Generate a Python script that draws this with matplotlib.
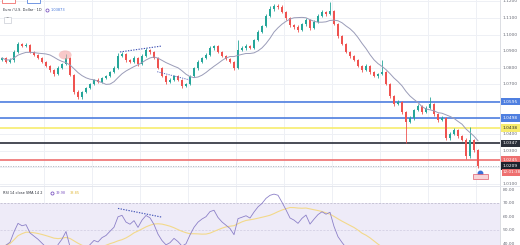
import matplotlib
matplotlib.use('Agg')
import matplotlib.pyplot as plt
import numpy as np
from matplotlib.patches import Ellipse, Rectangle
import matplotlib.transforms as mtrans

# ---------------- data ----------------
first_open = 1.0850
closes = [
    1.0860, 1.0836, 1.0848, 1.0896, 1.0944, 1.0932, 1.0938, 1.0896, 1.0878, 1.0860,
    1.0836, 1.0811, 1.0787, 1.0763, 1.0799, 1.0823, 1.0860, 1.0757, 1.0655, 1.0625,
    1.0655, 1.0679, 1.0703, 1.0727, 1.0715, 1.0739, 1.0751, 1.0775, 1.0799, 1.0872,
    1.0884, 1.0848, 1.0836, 1.0860, 1.0823, 1.0872, 1.0908, 1.0896, 1.0860, 1.0799,
    1.0751, 1.0715, 1.0727, 1.0751, 1.0727, 1.0691, 1.0703, 1.0751, 1.0799, 1.0836,
    1.0860, 1.0878, 1.0920, 1.0932, 1.0896, 1.0872, 1.0854, 1.0836, 1.0799, 1.0908,
    1.0920, 1.0932, 1.0920, 1.0968, 1.1016, 1.1052, 1.1113, 1.1155, 1.1173, 1.1168,
    1.1137, 1.1101, 1.1058, 1.1046, 1.1028, 1.1064, 1.1089, 1.1040, 1.1076, 1.1113,
    1.1137, 1.1125, 1.1140, 1.1064, 1.0992, 1.0944, 1.0896, 1.0872, 1.0848, 1.0811,
    1.0787, 1.0811, 1.0775, 1.0751, 1.0763, 1.0775, 1.0703, 1.0631, 1.0583, 1.0595,
    1.0534, 1.0474, 1.0498, 1.0546, 1.0570, 1.0534, 1.0558, 1.0583, 1.0522, 1.0486,
    1.0498, 1.0378, 1.0402, 1.0426, 1.0390, 1.0366, 1.0269, 1.0366, 1.0305, 1.0209,
]
wick_up_pips = [
    8, 6, 10, 12, 15, 6, 10, 5, 8, 6,
    5, 7, 6, 4, 10, 8, 25, 6, 8, 10,
    6, 8, 5, 7, 10, 6, 8, 5, 12, 15,
    10, 6, 8, 12, 5, 10, 14, 8, 6, 5,
    7, 5, 10, 6, 8, 5, 9, 6, 8, 10,
    7, 12, 9, 8, 5, 6, 7, 5, 8, 60,
    12, 10, 8, 9, 10, 8, 12, 15, 14, 10,
    8, 6, 7, 5, 10, 8, 12, 6, 14, 10,
    12, 8, 55, 10, 6, 8, 5, 7, 6, 8,
    5, 10, 6, 8, 9, 73, 6, 5, 8, 10,
    6, 8, 10, 9, 12, 8, 10, 42, 7, 6,
    10, 8, 12, 9, 7, 6, 10, 78, 8, 5,
]
wick_dn_pips = [
    6, 8, 5, 10, 6, 8, 7, 9, 5, 6,
    8, 6, 10, 12, 5, 7, 6, 8, 12, 15,
    10, 6, 8, 7, 5, 9, 6, 8, 5, 7,
    6, 10, 8, 5, 9, 7, 6, 10, 8, 7,
    6, 12, 9, 8, 7, 10, 6, 8, 5, 9,
    7, 6, 8, 10, 6, 9, 8, 7, 12, 6,
    8, 10, 7, 9, 6, 8, 5, 7, 10, 12,
    8, 10, 12, 14, 9, 7, 10, 12, 6, 8,
    7, 10, 6, 8, 12, 9, 7, 10, 8, 6,
    9, 7, 10, 8, 12, 6, 9, 10, 14, 8,
    10, 126, 8, 9, 7, 10, 8, 6, 9, 12,
    8, 14, 10, 9, 12, 8, 15, 9, 10, 12,
]
level_values = [1.0595, 1.0498, 1.0438, 1.0347, 1.0245]
level_colors = ['#4f7fe0', '#4f7fe0', '#f7ec6e', '#2a2e39', '#ee6f6f']
level_text_colors = ['white', 'white', '#2a2e39', 'white', 'white']
current_price = 1.0209
countdown_text = '12:01:38'
price_tick_values = [1.12, 1.11, 1.10, 1.09, 1.08, 1.07, 1.06, 1.05, 1.04, 1.03, 1.02, 1.01]
price_tick_shown = [1.12, 1.11, 1.10, 1.09, 1.08, 1.07, 1.04, 1.03, 1.01]
rsi_tick_values = [80, 70, 60, 50, 40]
header_title = 'Euro / U.S. Dollar · 1D'
header_value = '1.03873'
rsi_title = 'RSI 14 close SMA 14 2'
rsi_value = '39.98'
rsi_ma_value = '38.85'
trend_price_1 = ([29.5, 40.0], [1.0896, 1.0932])
trend_price_2 = ([38.8, 47.0], [1.0777, 1.0727])
trend_rsi = ([29.0, 40.0], [66.0, 59.5])

# ---------------- derived ----------------
n = len(closes)
idx = np.arange(n)
c = np.array(closes)
o = np.concatenate([[first_open], c[:-1]])
hi = np.maximum(o, c) + np.array(wick_up_pips) * 1e-4
lo = np.minimum(o, c) - np.array(wick_dn_pips) * 1e-4
ma = np.array([c[max(0, i - 9):i + 1].mean() for i in range(n)])

# RSI (Wilder) on the closes
period = 14
d = np.diff(c)
gain = np.where(d > 0, d, 0.0)
loss = np.where(d < 0, -d, 0.0)
ag, al = gain[:period].mean(), loss[:period].mean()
rsi = [np.nan]
for g, l in zip(gain, loss):
    ag = (ag * (period - 1) + g) / period
    al = (al * (period - 1) + l) / period
    rsi.append(100 - 100 / (1 + ag / max(al, 1e-9)))
rsi = np.array(rsi)
rsi_ma = np.array([np.nanmean(rsi[max(1, i - 13):i + 1]) if i > 0 else np.nan for i in range(n)])

# ---------------- figure ----------------
W, H = 520, 245
fig = plt.figure(figsize=(W / 100, H / 100), dpi=100)
fig.patch.set_facecolor('white')
plot_right = 500 / W
ax = fig.add_axes([0, 1 - 186 / H, plot_right, 186 / H])
ax2 = fig.add_axes([0, 0, plot_right, 59 / H])

xmin, xmax = -0.5, 124.5
ytop, ybot = 1.1209, 1.1209 - 186 / 1660
ax.set_xlim(xmin, xmax)
ax.set_ylim(ybot, ytop)
rtop = 70 + (203 - 186) / 1.35
rbot = 70 - (245 - 203) / 1.35
ax2.set_xlim(xmin, xmax)
ax2.set_ylim(rbot, rtop)

for a in (ax, ax2):
    a.set_xticks([])
    a.set_yticks([])
    for s in a.spines.values():
        s.set_visible(False)
    a.set_facecolor('none')

grid_c = '#eef0f5'
for gx in np.arange(10.5, 125, 12):
    ax.axvline(gx, color=grid_c, lw=0.7, zorder=0)
    ax2.axvline(gx, color=grid_c, lw=0.7, zorder=0)
for pv in price_tick_values:
    ax.axhline(pv, color=grid_c, lw=0.7, zorder=0)

# candles
up = c >= o
col = np.where(up, '#26a69a', '#ef5350')
ax.vlines(idx, lo, hi, colors=col, lw=0.6, zorder=3)
ax.bar(idx, np.abs(c - o) + 0.00015, bottom=np.minimum(o, c) - 0.000075, width=0.6,
       color=col, edgecolor=col, lw=0, zorder=4)
ax.plot(idx, ma, color='#9a9cb8', lw=0.7, zorder=5)

# levels
for v, lc in zip(level_values, level_colors):
    ax.axhline(v, color=lc, lw=1.2, zorder=2)
ax.axhline(current_price, color='#b0b3bd', lw=0.6, ls=(0, (1.5, 1.5)), zorder=2)

# trendlines
ax.plot(*trend_price_1, color='#3f51b5', lw=0.8, ls=(0, (1.2, 1.2)), zorder=6)
ax.plot(*trend_price_2, color='#5c6bc0', lw=0.7, ls=(0, (1.2, 1.2)), zorder=6)
ax.add_patch(Ellipse((15.8, 1.0878), 3.2, 0.0055, color='#f4a5a5', alpha=0.6, lw=0, zorder=6))

# event markers
ax.plot([119.6], [1.0167], marker='o', ms=3.2, color='#3b6fd8', zorder=7, clip_on=False)
ax.add_patch(Rectangle((117.8, 1.0128), 3.6, 0.0035, facecolor='#f7d4d8', edgecolor='#e05a6a',
                       lw=0.5, zorder=7))

# right price axis
fig.add_artist(plt.Line2D([plot_right, plot_right], [0, 1], color='#d6d8de', lw=0.6))
trans = mtrans.blended_transform_factory(ax.transAxes, ax.transData)
for pv in price_tick_shown:
    ax.text(1.005, pv, f'{pv:.4f}', transform=trans, fontsize=3.2, color='#6a6d78',
            va='center', ha='left', clip_on=False)
for v, lc, tc in zip(level_values, level_colors, level_text_colors):
    ax.text(1.006, v, f'{v:.4f}', transform=trans, fontsize=3.2, color=tc, va='center', ha='left',
            clip_on=False, bbox=dict(boxstyle='square,pad=0.35', fc=lc, ec='none'))
ax.text(1.006, current_price, f'{current_price:.4f}', transform=trans, fontsize=3.2, color='white',
        va='center', ha='left', clip_on=False, bbox=dict(boxstyle='square,pad=0.35', fc='#1e222d', ec='none'))
ax.text(1.006, current_price - 0.0037, countdown_text, transform=trans, fontsize=3.0, color='white',
        va='center', ha='left', clip_on=False, bbox=dict(boxstyle='square,pad=0.35', fc='#ee6f6f', ec='none'))

# header
ax.add_patch(Rectangle((0.004, 0.985), 0.026, 0.03, transform=ax.transAxes, fc='white',
                       ec='#ef5350', lw=0.5, clip_on=False, zorder=8))
ax.add_patch(Rectangle((0.054, 0.985), 0.026, 0.03, transform=ax.transAxes, fc='white',
                       ec='#3b6fd8', lw=0.5, clip_on=False, zorder=8))
hy = 1 - 10 / 186
ax.text(0.006, hy, header_title, transform=ax.transAxes, fontsize=2.5,
        color='#2a2e39', va='center', ha='left')
ax.plot([0.094], [hy], marker='o', ms=2.2, mfc='white', mec='#7e57c2', mew=0.6,
        transform=ax.transAxes)
ax.text(0.102, hy, header_value, transform=ax.transAxes, fontsize=2.5,
        color='#3b6fd8', va='center', ha='left')
ax.add_patch(Rectangle((0.008, 1 - 23 / 186), 0.014, 0.03, transform=ax.transAxes, fc='white',
                       ec='#c9ccd4', lw=0.5, zorder=8))
ax.text(0.015, 1 - 19 / 186, '^', transform=ax.transAxes, fontsize=2.8, color='#555', ha='center',
        va='center', zorder=9)

# RSI pane
ax2.axhspan(30, 70, color='#eeebf8', lw=0, zorder=0)
ax2.axhline(70, color='#b8b5c8', lw=0.5, ls=(0, (3, 2)), zorder=1)
ax2.axhline(50, color='#cfcbe0', lw=0.5, ls=(0, (3, 2)), zorder=1)
ax2.plot(idx, rsi, color='#8c80c8', lw=0.6, zorder=3)
ax2.plot(idx, rsi_ma, color='#f3d98a', lw=0.8, zorder=2)
ax2.plot(*trend_rsi, color='#3f51b5', lw=0.8, ls=(0, (1.2, 1.2)), zorder=6)
fig.add_artist(plt.Line2D([0, 1], [59 / H, 59 / H], color='#e0e3eb', lw=0.6))
trans2 = mtrans.blended_transform_factory(ax2.transAxes, ax2.transData)
for rv in rsi_tick_values:
    ax2.text(1.005, rv, f'{rv:.2f}', transform=trans2, fontsize=3.2, color='#6a6d78',
             va='center', ha='left', clip_on=False)
ty = 70 + (203 - 193) / 1.35
ax2.text(0.006, ty, rsi_title, transform=trans2, fontsize=2.5, color='#2a2e39', va='center', ha='left')
ax2.plot([0.104], [ty], marker='o', ms=2.2, mfc='white', mec='#7e57c2', mew=0.6, transform=trans2)
ax2.text(0.112, ty, rsi_value, transform=trans2, fontsize=2.5, color='#7e57c2', va='center', ha='left')
ax2.text(0.14, ty, rsi_ma_value, transform=trans2, fontsize=2.5, color='#e0b83a', va='center', ha='left')

fig.savefig('out.png', dpi=100, facecolor='white')
